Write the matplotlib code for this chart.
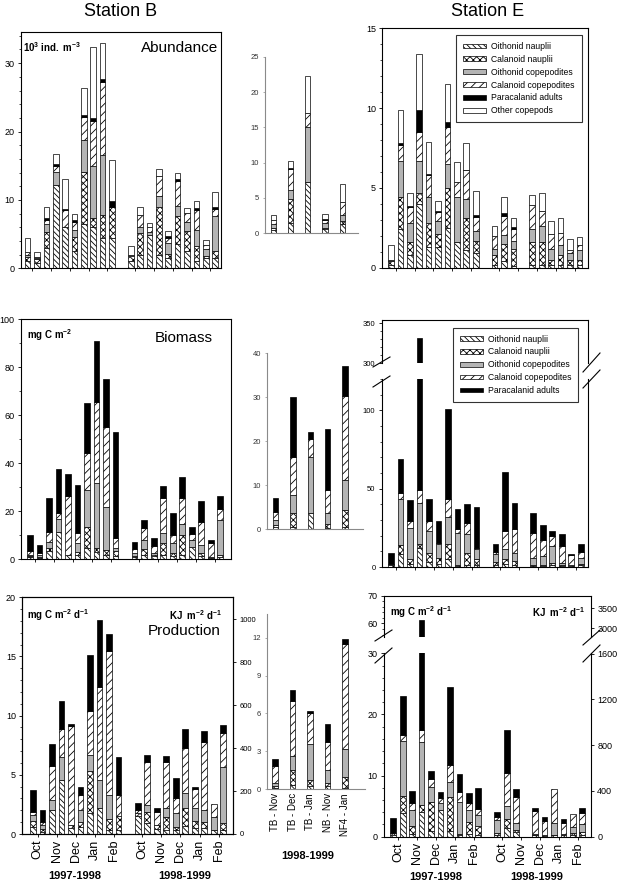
import numpy as np
import matplotlib
matplotlib.use('Agg')
import matplotlib.pyplot as plt
from matplotlib.patches import Patch
from matplotlib.lines import Line2D
from matplotlib.ticker import MultipleLocator

plt.rcParams['font.family'] = ['Liberation Sans', 'DejaVu Sans']
plt.rcParams['mathtext.fontset'] = 'custom'
plt.rcParams['mathtext.rm'] = 'Liberation Sans'
plt.rcParams['mathtext.bf'] = 'Liberation Sans:bold'
plt.rcParams['mathtext.it'] = 'Liberation Sans:italic'
plt.rcParams['hatch.linewidth'] = 0.6

# ---------------- data ----------------
components = ['Oithonid nauplii', 'Calanoid nauplii', 'Oithonid copepodites',
              'Calanoid copepodites', 'Paracalanid adults', 'Other copepods']
months = ['Oct', 'Nov', 'Dec', 'Jan', 'Feb', 'Oct', 'Nov', 'Dec', 'Jan', 'Feb']
seasons = ['1997-1998', '1998-1999']
sites = ['TB - Nov', 'TB - Dec', 'TB - Jan', 'NB - Nov', 'NF4 - Jan']

# Station B sampling slots (two seasons, 10 samples each); Station E misses one
slots_B = np.r_[np.arange(10), np.arange(11, 21)]
slots_E = np.r_[np.arange(10), np.arange(11, 14), np.arange(15, 21)]
month_ticks = np.r_[np.arange(0.5, 10, 2), np.arange(11.5, 21, 2)]

# Abundance (10^3 ind m-3) - Station B
abB_oith_naup = [1.0, 0.8, 3.0, 12.2, 6.0, 2.5, 6.5, 6.0, 4.5, 4.5, 1.0, 2.0, 4.8, 2.0, 1.5, 3.5, 2.5, 1.0, 1.5, 1.5]
abB_cal_naup = [0.7, 0.5, 2.3, 0.0, 0.0, 2.1, 7.6, 1.3, 3.3, 4.5, 0.8, 3.1, 0.0, 7.0, 0.6, 4.1, 2.9, 2.2, 0.3, 1.1]
abB_oith_cop = [0.3, 0.2, 1.2, 1.9, 0.0, 1.0, 4.7, 7.6, 8.8, 0.0, 0.0, 1.0, 0.5, 1.5, 1.6, 1.5, 1.4, 2.4, 1.0, 5.1]
abB_cal_cop = [0.4, 0.2, 0.6, 0.8, 2.5, 1.1, 3.3, 6.7, 10.7, 0.0, 0.15, 1.7, 0.7, 3.0, 0.8, 3.6, 1.3, 2.9, 0.6, 1.0]
abB_para = [0.0, 0.0, 0.3, 0.3, 0.2, 0.4, 0.3, 0.4, 0.4, 0.9, 0.0, 0.0, 0.0, 0.0, 0.2, 0.3, 0.0, 0.3, 0.0, 0.2]
abB_other = [2.1, 0.7, 1.6, 1.5, 4.3, 0.9, 3.9, 10.3, 5.2, 6.0, 1.25, 1.1, 0.6, 1.0, 0.8, 1.0, 0.7, 1.0, 0.8, 2.2]

# Abundance - other sites
abM_oith_naup = [0.5, 1.5, 7.2, 0.6, 1.3]
abM_cal_naup = [0.3, 3.3, 0.0, 0.2, 0.5]
abM_oith_cop = [0.5, 1.3, 7.8, 0.6, 0.8]
abM_cal_cop = [0.6, 3.0, 2.0, 0.5, 1.8]
abM_para = [0.0, 0.2, 0.0, 0.1, 0.0]
abM_other = [0.7, 0.9, 5.3, 0.7, 2.6]

# Abundance - Station E
abE_oith_naup = [0.2, 2.4, 0.8, 4.0, 1.3, 1.3, 2.5, 1.6, 1.1, 0.9, 0.2, 0.4, 0.1, 0.2, 0.2, 0.2, 0.2, 0.2, 0.2]
abE_cal_naup = [0.2, 2.0, 0.8, 0.7, 1.5, 0.8, 2.5, 0.0, 2.0, 0.8, 0.6, 1.1, 1.1, 1.4, 1.4, 0.3, 0.6, 0.3, 0.3]
abE_oith_cop = [0.1, 2.3, 1.2, 2.0, 1.6, 0.8, 1.5, 2.8, 1.2, 0.6, 0.4, 0.55, 0.5, 0.85, 1.0, 0.7, 0.6, 0.4, 0.6]
abE_cal_cop = [0.0, 1.0, 1.0, 1.8, 1.4, 0.6, 2.3, 1.0, 1.8, 0.9, 0.8, 1.2, 0.75, 1.45, 0.95, 0.9, 0.75, 0.2, 0.35]
abE_para = [0.0, 0.1, 0.05, 1.4, 0.05, 0.05, 0.3, 0.0, 0.05, 0.1, 0.0, 0.2, 0.1, 0.0, 0.0, 0.0, 0.0, 0.0, 0.0]
abE_other = [0.9, 2.1, 0.85, 3.5, 2.0, 0.6, 2.4, 1.2, 1.65, 1.5, 0.6, 0.95, 0.55, 0.65, 1.15, 0.8, 0.95, 0.7, 0.5]

# Biomass (mg C m-2) - Station B
bmB_oith_naup = [0.8, 0.7, 3.5, 11.25, 2.0, 2.0, 4.6, 3.0, 2.0, 1.5, 1.0, 2.0, 1.5, 2.0, 1.5, 2.0, 5.3, 1.5, 0.6, 0.8]
bmB_cal_naup = [0.5, 0.3, 1.1, 0.0, 0.0, 1.1, 9.0, 1.6, 1.9, 2.0, 0.5, 2.2, 0.5, 5.0, 1.0, 8.1, 0.0, 1.0, 0.5, 1.0]
bmB_oith_cop = [0.5, 0.8, 2.6, 5.45, 0.0, 3.6, 15.3, 27.3, 18.0, 1.1, 1.0, 3.9, 0.5, 3.8, 4.2, 4.6, 2.8, 3.5, 0.0, 14.6]
bmB_cal_cop = [1.8, 0.7, 4.05, 2.7, 24.4, 4.1, 15.5, 33.8, 33.4, 4.15, 1.7, 4.8, 3.1, 14.6, 3.4, 10.7, 2.5, 9.4, 5.8, 4.4]
bmB_para = [6.5, 3.5, 14.15, 18.1, 9.0, 20.2, 20.6, 25.3, 19.8, 44.15, 3.2, 3.5, 3.2, 5.2, 9.3, 9.0, 2.7, 8.8, 1.2, 5.7]

# Biomass - other sites
bmM_oith_naup = [0.6, 0.5, 3.6, 0.4, 0.5]
bmM_cal_naup = [0.3, 3.1, 0.0, 0.8, 3.9]
bmM_oith_cop = [1.2, 4.2, 12.9, 2.4, 6.8]
bmM_cal_cop = [1.9, 8.7, 4.0, 5.3, 19.0]
bmM_para = [3.0, 13.5, 1.5, 13.9, 6.8]

# Biomass - Station E
bmE_oith_naup = [0.3, 8.0, 2.0, 12.0, 3.0, 2.0, 5.0, 0.5, 1.5, 1.0, 1.0, 2.0, 1.5, 0.5, 0.5, 1.5, 0.8, 0.5, 1.0]
bmE_cal_naup = [1.0, 5.8, 3.3, 2.5, 5.7, 4.0, 9.5, 0.5, 7.6, 3.9, 2.0, 2.9, 2.3, 0.5, 0.5, 1.3, 0.7, 0.5, 0.7]
bmE_oith_cop = [0.2, 29.4, 19.8, 26.1, 14.3, 8.5, 17.6, 20.9, 11.8, 6.4, 5.1, 6.4, 5.3, 5.0, 6.0, 10.6, 1.3, 0.0, 4.3]
bmE_cal_cop = [0.2, 4.2, 4.3, 8.5, 6.4, 1.0, 11.5, 2.1, 7.4, 1.0, 1.7, 11.7, 14.9, 15.9, 10.2, 6.4, 10.6, 6.4, 3.8]
bmE_para = [7.4, 21.3, 13.2, 281.9, 14.2, 13.9, 57.0, 12.8, 12.1, 26.2, 4.7, 37.6, 17.1, 12.8, 9.6, 3.2, 7.9, 0.7, 4.7]

# Production (mg C m-2 d-1) - Station B
prB_oith_naup = [0.6, 0.2, 2.0, 4.6, 0.5, 0.55, 1.75, 2.2, 0.3, 0.3, 1.5, 0.9, 0.4, 0.3, 0.3, 0.7, 0.5, 0.5, 0.35, 0.3]
prB_cal_naup = [0.5, 0.2, 0.0, 0.0, 0.3, 0.5, 3.55, 0.0, 1.0, 1.2, 0.3, 1.0, 0.35, 1.15, 0.3, 1.5, 0.6, 0.55, 0.0, 0.6]
prB_oith_cop = [0.5, 0.4, 0.9, 1.9, 0.0, 0.95, 1.4, 2.4, 2.0, 0.0, 0.0, 0.55, 0.0, 0.75, 1.15, 1.25, 1.1, 0.95, 1.1, 4.8]
prB_cal_cop = [0.3, 0.25, 2.85, 2.4, 8.3, 1.3, 3.7, 7.8, 12.2, 1.8, 0.2, 3.65, 1.15, 3.9, 1.25, 3.8, 1.6, 5.8, 1.1, 2.8]
prB_para = [1.8, 0.95, 1.85, 2.3, 0.2, 0.7, 4.7, 5.7, 1.4, 3.2, 0.6, 0.6, 0.3, 0.45, 1.7, 1.65, 0.2, 0.9, 0.0, 0.7]

# Production - other sites
prM_oith_naup = [0.1, 0.3, 0.2, 0.2, 0.1]
prM_cal_naup = [0.1, 1.2, 0.5, 0.3, 0.85]
prM_oith_cop = [0.3, 1.15, 2.9, 1.0, 2.25]
prM_cal_cop = [1.3, 4.35, 2.4, 2.2, 8.35]
prM_para = [0.6, 0.9, 0.2, 1.5, 0.35]

# Production - Station E
prE_oith_naup = [0.25, 3.8, 0.5, 4.0, 1.0, 4.35, 1.0, 0.2, 0.5, 0.3, 0.3, 1.5, 0.7, 0.2, 0.1, 0.2, 0.2, 0.3, 0.3]
prE_cal_naup = [0.4, 2.85, 1.25, 1.2, 4.7, 0.0, 5.55, 0.2, 1.85, 1.5, 0.25, 1.35, 0.4, 0.1, 0.1, 0.1, 0.3, 0.35, 0.4]
prE_oith_cop = [0.0, 9.05, 2.6, 10.3, 2.5, 1.2, 2.45, 5.3, 2.0, 1.75, 2.15, 2.15, 1.2, 0.1, 0.0, 2.0, 0.0, 1.0, 1.3]
prE_cal_cop = [0.0, 0.9, 1.2, 1.95, 1.2, 0.7, 2.8, 1.65, 1.2, 1.05, 0.45, 5.45, 4.15, 3.8, 2.4, 5.5, 1.8, 2.0, 1.8]
prE_para = [2.35, 6.4, 1.95, 43.75, 1.3, 1.1, 12.7, 2.85, 1.65, 3.3, 0.95, 7.0, 1.35, 0.55, 0.55, 0.0, 0.55, 0.0, 0.95]

# ---------------- styling ----------------
W, H = 619, 882
fig = plt.figure(figsize=(W / 100, H / 100), dpi=100)

GRAY = '#b4b4b4'
STYLES = [dict(facecolor='white', hatch='\\\\\\\\\\\\'),
          dict(facecolor='white', hatch='xxxxx'),
          dict(facecolor=GRAY, hatch=None),
          dict(facecolor='white', hatch='////'),
          dict(facecolor='black', hatch=None),
          dict(facecolor='white', hatch=None)]


def box(x0, y0, x1, y1):
    return [x0 / W, 1 - y1 / H, (x1 - x0) / W, (y1 - y0) / H]


def ftext(x, y, s, **kw):
    fig.text(x / W, 1 - y / H, s, **kw)


def fline(x0, y0, x1, y1, lw=0.8):
    fig.add_artist(Line2D([x0 / W, x1 / W], [1 - y0 / H, 1 - y1 / H],
                          transform=fig.transFigure, color='black', lw=lw))


def stack(ax, x, comps, width):
    x = np.asarray(x, float)
    bottom = np.zeros(len(x))
    for vals, st in zip(comps, STYLES):
        vals = np.asarray(vals, float)
        m = vals > 0
        ax.bar(x[m], vals[m], width, bottom=bottom[m], edgecolor='black',
               linewidth=0.5, **st)
        bottom = bottom + vals


def main_axes(rect, xlim, ylim, major, minor, lsize=6.5):
    ax = fig.add_axes(box(*rect))
    ax.set_xlim(xlim)
    ax.set_ylim(ylim)
    ax.yaxis.set_major_locator(MultipleLocator(major))
    ax.yaxis.set_minor_locator(MultipleLocator(minor))
    ax.set_xticks(month_ticks)
    ax.set_xticklabels([])
    ax.tick_params(which='major', direction='out', length=2.5, width=0.6,
                   labelsize=lsize, pad=2)
    ax.tick_params(axis='y', which='minor', direction='out', length=1.5, width=0.5)
    for s in ax.spines.values():
        s.set_linewidth(0.8)
    return ax


def mid_axes(rect, xlim, ylim, major):
    ax = fig.add_axes(box(*rect))
    ax.set_xlim(xlim)
    ax.set_ylim(ylim)
    ax.yaxis.set_major_locator(MultipleLocator(major))
    ax.set_xticks([])
    for s in ['top', 'right']:
        ax.spines[s].set_visible(False)
    for s in ['left', 'bottom']:
        ax.spines[s].set_color('#8a8a8a')
        ax.spines[s].set_linewidth(0.8)
    ax.tick_params(axis='y', direction='out', length=1.2, width=0.5,
                   color='#8a8a8a', labelsize=5.5, labelcolor='#333333', pad=3)
    return ax


def legend_at(x, y, n):
    handles = [Patch(edgecolor='black', linewidth=0.5, **STYLES[i]) for i in range(n)]
    leg = fig.legend(handles, components[:n], loc='upper left',
                     bbox_to_anchor=(x / W, 1 - y / H), bbox_transform=fig.transFigure,
                     fontsize=6.2, frameon=True, fancybox=False, edgecolor='black',
                     handlelength=2.7, handleheight=0.45, labelspacing=0.45,
                     borderpad=0.8, handletextpad=0.6, borderaxespad=0)
    leg.get_frame().set_linewidth(0.8)


def broken(rect_up, rect_lo, xlim, ylim_up, ylim_lo):
    up = fig.add_axes(box(*rect_up))
    lo = fig.add_axes(box(*rect_lo))
    for ax, yl in ((up, ylim_up), (lo, ylim_lo)):
        ax.set_xlim(xlim)
        ax.set_ylim(yl)
        for s in ax.spines.values():
            s.set_linewidth(0.8)
    up.spines['bottom'].set_visible(False)
    lo.spines['top'].set_visible(False)
    up.set_xticks([])
    lo.set_xticks(month_ticks)
    lo.set_xticklabels([])
    for ax in (up, lo):
        ax.tick_params(which='major', direction='out', length=2.5, width=0.6, pad=2)
        ax.tick_params(axis='y', which='minor', direction='out', length=1.5, width=0.5)
    return up, lo


# ---------------- Abundance ----------------
ax = main_axes((21, 31.7, 220.7, 268.3), (-0.71, 20.6), (0, 34.6), 10, 2)
stack(ax, slots_B, [abB_oith_naup, abB_cal_naup, abB_oith_cop, abB_cal_cop, abB_para, abB_other], 0.6)
ftext(23, 47, r'$\mathbf{10^3\ ind.\ m^{-3}}$', fontsize=7, ha='left', va='center')
ftext(218, 48, 'Abundance', fontsize=11, ha='right', va='center')

ax = mid_axes((265, 56.7, 358, 233.3), (-0.48, 4.91), (0, 25), 5)
stack(ax, np.arange(len(sites)), [abM_oith_naup, abM_cal_naup, abM_oith_cop, abM_cal_cop, abM_para, abM_other], 0.31)

ax = main_axes((382.3, 28.3, 588.3, 267.7), (-0.92, 20.95), (0, 15), 5, 1)
stack(ax, slots_E, [abE_oith_naup, abE_cal_naup, abE_oith_cop, abE_cal_cop, abE_para, abE_other], 0.6)
legend_at(456, 35, 6)

# ---------------- Biomass ----------------
ax = main_axes((21, 319.3, 230.7, 559.3), (-0.95, 21.1), (0, 100), 20, 10)
stack(ax, slots_B, [bmB_oith_naup, bmB_cal_naup, bmB_oith_cop, bmB_cal_cop, bmB_para], 0.6)
ftext(27, 335, r'$\mathbf{mg\ C\ m^{-2}}$', fontsize=7, ha='left', va='center')
ftext(213, 338, 'Biomass', fontsize=11, ha='right', va='center')

ax = mid_axes((266.7, 353.3, 363, 529.3), (-0.52, 5.04), (0, 40), 10)
stack(ax, np.arange(len(sites)), [bmM_oith_naup, bmM_cal_naup, bmM_oith_cop, bmM_cal_cop, bmM_para], 0.31)

up, lo = broken((381.7, 320, 588, 363.3), (381.7, 379, 588, 567), (-0.98, 20.76), (300, 354), (0, 120))
for a in (up, lo):
    stack(a, slots_E, [bmE_oith_naup, bmE_cal_naup, bmE_oith_cop, bmE_cal_cop, bmE_para], 0.6)
    a.tick_params(labelsize=5.5)
up.yaxis.set_major_locator(MultipleLocator(50))
up.yaxis.set_minor_locator(MultipleLocator(10))
lo.yaxis.set_major_locator(MultipleLocator(50))
lo.yaxis.set_minor_locator(MultipleLocator(10))
legend_at(452.7, 327.7, 5)
fline(373, 367, 390, 357)
fline(373, 387, 390, 376)
fline(583, 372, 600, 353)
fline(583, 388, 600, 370)

# ---------------- Production ----------------
ax = main_axes((22.3, 597.3, 233.3, 834), (-1.12, 21.05), (0, 20), 5, 1)
stack(ax, slots_B, [prB_oith_naup, prB_cal_naup, prB_oith_cop, prB_cal_cop, prB_para], 0.6)
ax.set_xticklabels(months, rotation=90, fontsize=9)
ax.tick_params(axis='x', pad=1.5)
ax2 = ax.twinx()
ax2.set_ylim(0, 1102)
ax2.yaxis.set_major_locator(MultipleLocator(200))
ax2.tick_params(direction='out', length=2.5, width=0.6, labelsize=5.5, pad=2)
ftext(27, 615, r'$\mathbf{mg\ C\ m^{-2}\ d^{-1}}$', fontsize=7, ha='left', va='center')
ftext(222, 615, r'$\mathbf{KJ\ \ m^{-2}\ d^{-1}}$', fontsize=7, ha='right', va='center')
ftext(221, 631, 'Production', fontsize=11, ha='right', va='center')

ax = mid_axes((266.7, 614, 365, 789), (-0.48, 5.14), (0, 13.9), 3)
stack(ax, np.arange(len(sites)), [prM_oith_naup, prM_cal_naup, prM_oith_cop, prM_cal_cop, prM_para], 0.31)
ax.set_xticks(np.arange(len(sites)))
ax.set_xticklabels(sites, rotation=90, fontsize=7)
ax.tick_params(axis='x', length=0, pad=3)

up, lo = broken((384, 595.7, 591, 637.3), (384, 653.3, 591, 836.7), (-0.98, 20.92), (55, 70), (0, 30))
for a in (up, lo):
    stack(a, slots_E, [prE_oith_naup, prE_cal_naup, prE_oith_cop, prE_cal_cop, prE_para], 0.6)
    a.tick_params(labelsize=6.5)
up.yaxis.set_major_locator(MultipleLocator(10))
up.yaxis.set_minor_locator(MultipleLocator(2))
lo.yaxis.set_major_locator(MultipleLocator(10))
lo.yaxis.set_minor_locator(MultipleLocator(2))
lo.set_xticklabels(months, rotation=90, fontsize=9)
lo.tick_params(axis='x', pad=1.5)
up2 = up.twinx()
up2.set_ylim(2775, 3815)
up2.set_yticks([3000, 3500])
lo2 = lo.twinx()
lo2.set_ylim(0, 1602)
lo2.set_yticks([0, 400, 800, 1200, 1600])
for a in (up2, lo2):
    a.tick_params(direction='out', length=2.5, width=0.6, labelsize=6.5, pad=2)
    for s in a.spines.values():
        s.set_visible(False)
fline(375, 641, 392, 630)
fline(375, 663, 392, 648)
fline(583, 645, 600, 630)
fline(583, 662, 600, 645)
ftext(390, 612, r'$\mathbf{mg\ C\ m^{-2}\ d^{-1}}$', fontsize=7, ha='left', va='center')
ftext(585, 612, r'$\mathbf{KJ\ \ m^{-2}\ d^{-1}}$', fontsize=7, ha='right', va='center')

# ---------------- titles & season labels ----------------
ftext(121, 11, 'Station B', fontsize=13, ha='center', va='center')
ftext(488, 11, 'Station E', fontsize=13, ha='center', va='center')
for x, y, s in [(75, 876, seasons[0]), (185, 876, seasons[1]), (308, 856, seasons[1]),
                (436, 877, seasons[0]), (537, 877, seasons[1])]:
    ftext(x, y, s, fontsize=8, fontweight='bold', ha='center', va='center')

fig.savefig('out.png', dpi=100)
